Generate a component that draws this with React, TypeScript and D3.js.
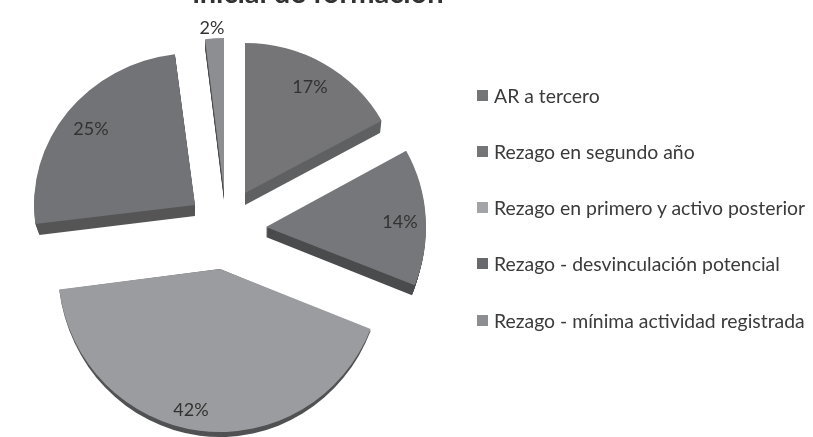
import React from "react";
import * as d3 from "d3";

const categories = [
  "AR a tercero",
  "Rezago en segundo año",
  "Rezago en primero y activo posterior",
  "Rezago - desvinculación potencial",
  "Rezago - mínima actividad registrada",
];
const values = [17, 14, 42, 25, 2];
const titleText = "inicial de formación";

// Layout of the exploded, tilted pie (not data)
const apexX = [245, 266, 220, 195, 224];
const apexY = [193, 227, 269, 205, 192];
const radiusX = [156, 160, 162, 161, 152];
const radiusY = [150, 158, 163, 152, 154];
const wallDepth = [12, 10, 0, 11, 8];
const wallGrow = [0, 0, 5, 0, 0];
const wallShrink = [1.5, 3, 0, 4, 0];
const faceColors = ["#747578", "#76777a", "#9b9c9f", "#727376", "#8d8e91"];
const wallColors = ["#5f6062", "#4a4b4d", "#505153", "#545557", "#4a4b4d"];
const legendColors = ["#737477", "#737477", "#a3a4a7", "#68696c", "#8d8e91"];
const labelX = [310, 400, 191, 91, 212];
const labelY = [86, 221, 409, 128, 27];
const legendY = [96, 152, 208, 264, 321];

export default function App() {
  const pieAngles = d3.pie<number>().sort(null)(values);
  const unitArc = d3.arc<d3.PieArcDatum<number>>().innerRadius(0).outerRadius(1);
  const fontFamily = "Lato, Carlito, sans-serif";
  return (
    <svg
      width={813}
      height={437}
      style={{ position: "absolute", left: 0, top: 0, background: "#fff" }}
    >
      <defs>
        <filter id="soft" x="-5%" y="-5%" width="110%" height="110%">
          <feGaussianBlur stdDeviation="0.55" />
        </filter>
      </defs>
      <g filter="url(#soft)">
        <text
          x={318}
          y={3}
          textAnchor="middle"
          fontFamily={fontFamily}
          fontWeight={700}
          fontSize={29}
          fill="#333"
        >
          {titleText}
        </text>
        {pieAngles.map((d, i) => {
          const path = unitArc(d) as string;
          return (
            <g key={categories[i]}>
              {wallGrow[i] > 0 && (
                <path
                  d={path}
                  fill={wallColors[i]}
                  transform={`translate(${apexX[i]},${apexY[i]}) scale(${radiusX[i]},${radiusY[i] + wallGrow[i]})`}
                />
              )}
              {d3.range(1, wallDepth[i] + 1).map((k) => (
                <path
                  key={k}
                  d={path}
                  fill={wallColors[i]}
                  transform={`translate(${apexX[i]},${apexY[i] + k}) scale(${radiusX[i] - (wallShrink[i] * k) / wallDepth[i]},${radiusY[i]})`}
                />
              ))}
              <path
                d={path}
                fill={faceColors[i]}
                transform={`translate(${apexX[i]},${apexY[i]}) scale(${radiusX[i]},${radiusY[i]})`}
              />
            </g>
          );
        })}
        {values.map((v, i) => (
          <text
            key={i}
            x={labelX[i]}
            y={labelY[i] + 7}
            textAnchor="middle"
            fontFamily={fontFamily}
            fontSize={18}
            fill="#333"
          >
            {v}%
          </text>
        ))}
        {categories.map((c, i) => (
          <g key={c}>
            <rect x={477} y={legendY[i] - 6} width={11} height={11} fill={legendColors[i]} />
            <text
              x={494}
              y={legendY[i] + 6.5}
              fontFamily={fontFamily}
              fontSize={19.4}
              fill="#3a3a3a"
            >
              {c}
            </text>
          </g>
        ))}
      </g>
    </svg>
  );
}
